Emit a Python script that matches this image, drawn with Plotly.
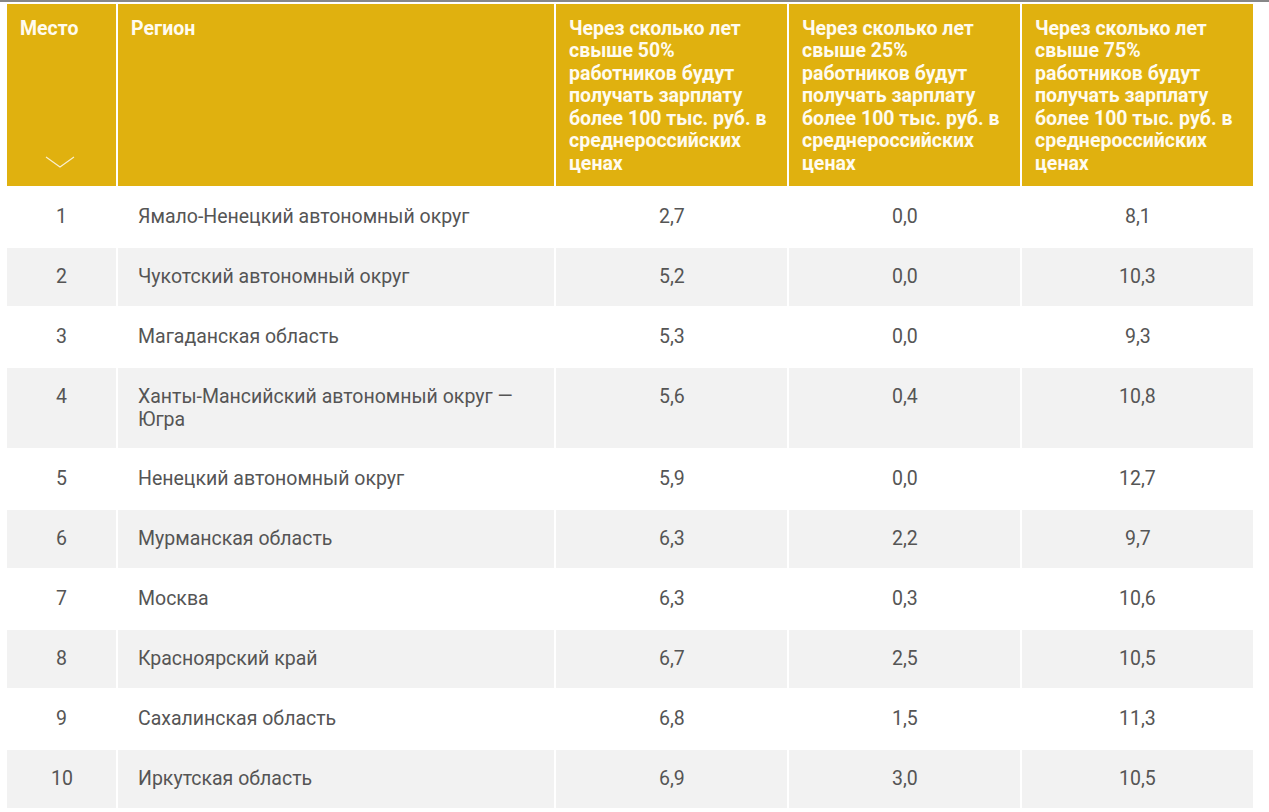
import plotly.graph_objects as go

# ---------------- data ----------------
places = ["1", "2", "3", "4", "5", "6", "7", "8", "9", "10"]
regions = [
    "Ямало-Ненецкий автономный округ",
    "Чукотский автономный округ",
    "Магаданская область",
    "Ханты-Мансийский автономный округ —<br>Югра",
    "Ненецкий автономный округ",
    "Мурманская область",
    "Москва",
    "Красноярский край",
    "Сахалинская область",
    "Иркутская область",
]
years_50 = ["2,7", "5,2", "5,3", "5,6", "5,9", "6,3", "6,3", "6,7", "6,8", "6,9"]
years_25 = ["0,0", "0,0", "0,0", "0,4", "0,0", "2,2", "0,3", "2,5", "1,5", "3,0"]
years_75 = ["8,1", "10,3", "9,3", "10,8", "12,7", "9,7", "10,6", "10,5", "11,3", "10,5"]

header_place = "Место"
header_region = "Регион"
header_50 = "Через сколько лет<br>свыше 50%<br>работников будут<br>получать зарплату<br>более 100 тыс. руб. в<br>среднероссийских<br>ценах"
header_25 = "Через сколько лет<br>свыше 25%<br>работников будут<br>получать зарплату<br>более 100 тыс. руб. в<br>среднероссийских<br>ценах"
header_75 = "Через сколько лет<br>свыше 75%<br>работников будут<br>получать зарплату<br>более 100 тыс. руб. в<br>среднероссийских<br>ценах"

headers = [header_place, header_region, header_50, header_25, header_75]
columns = [places, regions, years_50, years_25, years_75]

# ---------------- layout / style ----------------
W, H = 1269, 812
YELLOW = "#E0B10F"
GRAY = "#F2F2F2"
TEXT = "#555555"
FONT = "Roboto"

col_widths = [111, 438, 233, 233, 233]
col_align = ["center", "left", "center", "center", "center"]
header_height = 184
row_heights = [82 if "<br>" in r else 60 for r in regions]
table_left, table_top = 6, 3

x_edges = [table_left]
for w in col_widths:
    x_edges.append(x_edges[-1] + w)
y_edges = [table_top, table_top + header_height]
for h in row_heights:
    y_edges.append(y_edges[-1] + h)

# background: 2 = header, 1 = grey stripe, 0 = white stripe
z = [[2] * len(columns)]
for i in range(len(places)):
    z.append([1 if i % 2 else 0] * len(columns))

fig = go.Figure(go.Heatmap(
    x=x_edges, y=y_edges, z=z,
    zmin=0, zmax=2,
    colorscale=[[0, "white"], [0.5, GRAY], [1, YELLOW]],
    showscale=False, xgap=2, ygap=2, hoverinfo="skip",
))

annotations = []
# header texts
HDR_PAD_X, HDR_FIRST, HDR_STEP = 12, 25, 22.5
for c, htext in enumerate(headers):
    for k, line in enumerate(htext.split("<br>")):
        annotations.append(dict(
            x=x_edges[c] + HDR_PAD_X, y=y_edges[0] + HDR_FIRST + k * HDR_STEP,
            text=line, xanchor="left", yanchor="middle", showarrow=False,
            font=dict(family=FONT, size=19.5, color="#FFFBEF", weight="bold"),
        ))

# body texts
CELL_PAD_X, CELL_FIRST, CELL_STEP = 19, 29, 23
for c, col in enumerate(columns):
    for r, val in enumerate(col):
        top = y_edges[r + 1]
        for k, line in enumerate(val.split("<br>")):
            if col_align[c] == "center":
                x, xa = (x_edges[c] + x_edges[c + 1]) / 2, "center"
            else:
                x, xa = x_edges[c] + CELL_PAD_X, "left"
            annotations.append(dict(
                x=x, y=top + CELL_FIRST + k * CELL_STEP,
                text=line, xanchor=xa, yanchor="middle", showarrow=False,
                font=dict(family=FONT, size=19.5, color=TEXT),
            ))

shapes = [
    # sort chevron under "Место"
    dict(type="path", path="M 46 157 L 60 167 L 74 157",
         line=dict(color="rgba(255,255,255,0.8)", width=1.2), xref="x", yref="y"),
    # thin dark rule at the very top of the picture
    dict(type="line", x0=0, x1=W, y0=1, y1=1, xref="x", yref="y",
         line=dict(color="#111111", width=1.2)),
]

fig.update_layout(
    width=W, height=H,
    margin=dict(l=0, r=0, t=0, b=0),
    paper_bgcolor="white", plot_bgcolor="white",
    xaxis=dict(range=[0, W], visible=False, fixedrange=True),
    yaxis=dict(range=[H, 0], visible=False, fixedrange=True),
    annotations=annotations,
    shapes=shapes,
    showlegend=False,
)

fig.write_html("out.html", config={"displayModeBar": False},
               post_script="document.body.style.margin='0px';")
